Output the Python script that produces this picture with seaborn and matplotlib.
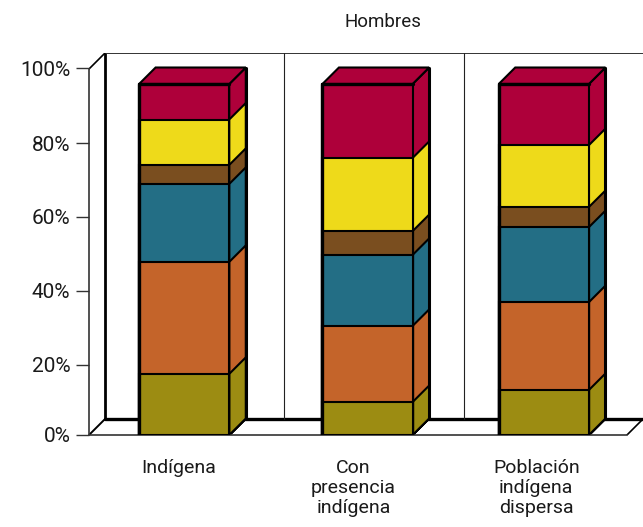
import pandas as pd
import seaborn as sns
from matplotlib import pyplot as plt

# share of each group, as read against the front of the axis
categorias = ["Indígena", "Con\npresencia\nindígena", "Población\nindígena\ndispersa"]
serie_1 = [16.7, 9.0, 12.3]
serie_2 = [30.6, 20.8, 24.0]
serie_3 = [21.3, 19.4, 20.5]
serie_4 = [5.2, 6.5, 5.5]
serie_5 = [12.4, 20.0, 16.9]
serie_6 = [9.7, 20.2, 16.7]
ticks_y = [0, 20, 40, 60, 80, 100]

series = [serie_1, serie_2, serie_3, serie_4, serie_5, serie_6]
colores = ["#9C8C12", "#C4642A", "#236E85", "#7A4E1F", "#EEDA1A", "#AE003A"]

# pixel scale of the picture, the 3d look is done by hand with these
PX_X = 179.0
PX_Y = 3.66
DX = 16.5 / PX_X
DY = 16.5 / PX_Y
WALL_X = 16 / PX_X
WALL_Y = 16 / PX_Y
SHIFT = [5.5 / PX_X, 9.5 / PX_X, 6.5 / PX_X]
# the reference ticks are not quite evenly spaced (pixels, up is positive)
TICK_NUDGE = [0, -3, -2, -1.5, -1, 0.5]
LABEL_NUDGE = [0, -4.5, -1]


def draw_box(ax):
    # back wall and floor, they stay behind the bars
    top = 100 + WALL_Y
    x0, x1 = -0.5, 2.5
    ax.plot([x0 + WALL_X, x0 + WALL_X], [WALL_Y, top], color="black", lw=2, zorder=0.5)
    ax.plot([x0 + WALL_X, x1 + WALL_X], [top, top], color="#333333", lw=1.4, zorder=0.5)
    ax.plot([x0 + WALL_X, x1 + WALL_X], [WALL_Y, WALL_Y], color="black", lw=2.4, zorder=0.5)
    ax.plot([x0, x0 + WALL_X], [100, top], color="black", lw=1.2, zorder=0.5)
    ax.plot([x0, x0 + WALL_X], [0, WALL_Y], color="black", lw=1.4, zorder=0.5)
    ax.plot([x1, x1 + WALL_X], [0, WALL_Y], color="black", lw=1.2, zorder=0.5)
    for i in range(2):
        x = x0 + WALL_X + i + 1
        ax.plot([x, x], [WALL_Y, top], color="#222222", lw=0.8, zorder=0.5)


def draw_bars(ax):
    df = pd.DataFrame(series).T
    cum = df.cumsum(axis=1)
    # tallest layer first, each shorter one covers the bottom of the last
    for j in reversed(range(len(series))):
        before = len(ax.patches)
        sns.barplot(x=categorias, y=cum[j].tolist(), color=colores[j], saturation=1,
                    width=0.503, edgecolor="black", linewidth=1.5, ax=ax, zorder=3)
        for i, bar in enumerate(ax.patches[before:]):
            bar.set_x(bar.get_x() + SHIFT[i])
            right = bar.get_x() + bar.get_width()
            h = bar.get_height()
            ax.fill([right, right + DX, right + DX, right], [0, DY, h + DY, h],
                    facecolor=colores[j], edgecolor="black", lw=1.5, zorder=2.5)
            if j == len(series) - 1:
                left = bar.get_x()
                ax.fill([left, left + DX, right + DX, right], [h, h + DY, h + DY, h],
                        facecolor=colores[j], edgecolor="black", lw=1.5, zorder=2.5)
                # heavier outline round the whole stack
                ax.plot([left, left, right], [0, h, h], color="black", lw=2.4, zorder=4)
                ax.plot([right + DX, right + DX], [DY, h + DY], color="black", lw=2.2, zorder=4)


def main():
    sns.set_style("white")
    plt.rcParams["font.family"] = ["Roboto", "DejaVu Sans"]

    fig = plt.figure(figsize=(6.43, 5.27), dpi=100)
    ax = fig.add_axes([89 / 643, 1 - 435 / 527, 554 / 643, 382 / 527])

    draw_box(ax)
    draw_bars(ax)

    ax.set_xlim(-0.5, 2.5 + WALL_X)
    ax.set_ylim(0, 100 + WALL_Y)
    ax.set_yticks([t + n / PX_Y for t, n in zip(ticks_y, TICK_NUDGE)])
    ax.set_yticklabels([f"{t}%" for t in ticks_y], fontsize=15, color="#1a1a1a")
    ax.set_xticks([i + n / PX_X for i, n in enumerate(LABEL_NUDGE)])
    ax.set_xticklabels(categorias)
    ax.tick_params(axis="y", length=9.4, width=1, color="#333333", pad=4, left=True)
    ax.tick_params(axis="x", length=0, pad=17, labelsize=14, labelcolor="#1a1a1a")
    for label in ax.get_xticklabels():
        label.set_linespacing(1.15)

    sns.despine(ax=ax, top=True, right=True)
    ax.spines["left"].set_bounds(0, 100)
    ax.spines["bottom"].set_bounds(-0.5, 2.5)
    for side in ["left", "bottom"]:
        ax.spines[side].set_color("#333333")
        ax.spines[side].set_linewidth(1.2)

    ax.set_title("Hombres", x=0.53, y=1.0, pad=18.5, fontsize=13.5, color="#1a1a1a")
    ax.set_xlabel("")
    ax.set_ylabel("")

    fig.savefig("out.png", dpi=100)


if __name__ == "__main__":
    main()
